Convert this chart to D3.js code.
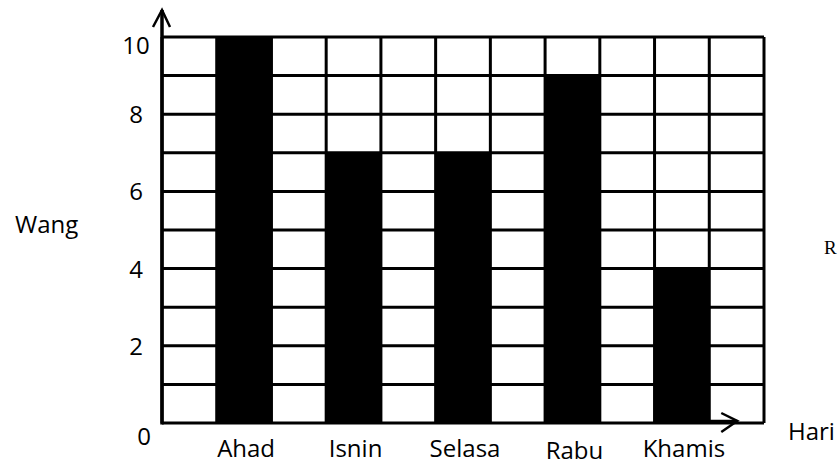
<!DOCTYPE html>
<html>
<head>
<meta charset="utf-8">
<script src="https://cdn.jsdelivr.net/npm/d3@7"></script>
<style>
  html, body { margin: 0; padding: 0; background: #fff; }
  svg { display: block; }
  text { font-family: "Open Sans", sans-serif; fill: #000; }
</style>
</head>
<body>
<svg id="chart" width="840" height="465"></svg>
<script>
// Hari (day) and Wang (money)
const days = ["Ahad", "Isnin", "Selasa", "Rabu", "Khamis"];
const money = [10, 7, 7, 9, 4];
const yTicks = [0, 2, 4, 6, 8, 10];
const yTitle = "Wang";
const xTitle = "Hari";

const svg = d3.select("#chart");
const plotLeft = 162, plotRight = 764, plotTop = 37, plotBottom = 423;

const x = d3.scaleBand()
  .domain(days)
  .range([plotLeft, plotRight])
  .paddingInner(0.5)
  .paddingOuter(0.5);

const y = d3.scaleLinear().domain([0, 10]).range([plotBottom, plotTop]);

// bars
svg.append("g").selectAll("rect")
  .data(days)
  .join("rect")
  .attr("x", d => x(d))
  .attr("width", x.bandwidth())
  .attr("y", (d, i) => y(money[i]))
  .attr("height", (d, i) => y(0) - y(money[i]))
  .attr("fill", "#000");

// grid: one line per unit and one column per half step
const grid = svg.append("g").attr("stroke", "#000").attr("stroke-width", 3);
const half = x.step() / 2;
const colEdges = d3.range(0, 12).map(i => plotLeft + i * half);
grid.selectAll("line.v")
  .data(colEdges)
  .join("line")
  .attr("class", "v")
  .attr("x1", d => d).attr("x2", d => d)
  .attr("y1", plotTop).attr("y2", plotBottom);
grid.selectAll("line.h")
  .data(d3.range(0, 11))
  .join("line")
  .attr("class", "h")
  .attr("x1", plotLeft).attr("x2", plotRight)
  .attr("y1", d => y(d)).attr("y2", d => y(d));

// y axis line, slightly heavier, with arrow
const axes = svg.append("g").attr("stroke", "#000").attr("fill", "none");
axes.append("line")
  .attr("x1", plotLeft).attr("x2", plotLeft)
  .attr("y1", plotBottom + 1.5).attr("y2", 10)
  .attr("stroke-width", 3.5);
axes.append("path")
  .attr("d", `M${plotLeft - 9},27 L${plotLeft},10 L${plotLeft + 8},27`)
  .attr("stroke-width", 2.5);

// x arrow
const ax = x("Khamis") + x.bandwidth();
axes.append("line")
  .attr("x1", ax).attr("x2", ax + 28)
  .attr("y1", plotBottom - 2).attr("y2", plotBottom - 2)
  .attr("stroke-width", 2.5);
axes.append("path")
  .attr("d", `M${ax + 12},${plotBottom - 10} L${ax + 28},${plotBottom - 2} L${ax + 12},${plotBottom + 9}`)
  .attr("stroke-width", 2.5);

// y tick labels
svg.append("g").selectAll("text")
  .data(yTicks)
  .join("text")
  .attr("x", d => d === 0 ? 144 : 136)
  .attr("y", d => d === 0 ? y(d) + 22 : d === 10 ? y(d) + 17 : y(d) + 9)
  .attr("text-anchor", "middle")
  .style("font-size", "24px")
  .text(d => d);

// day labels
svg.append("g").selectAll("text")
  .data(days)
  .join("text")
  .attr("x", d => x(d) + x.bandwidth() / 2 + 2)
  .attr("y", d => d === "Rabu" ? 459 : 457)
  .attr("text-anchor", "middle")
  .style("font-size", "24px")
  .text(d => d);

// titles
svg.append("text").attr("x", 15).attr("y", 233).style("font-size", "24px").text(yTitle);
svg.append("text").attr("x", 788).attr("y", 440).style("font-size", "24px").text(xTitle);
svg.append("text")
  .attr("x", 824).attr("y", 254)
  .style("font-size", "19px")
  .style("font-family", "'Liberation Serif', serif")
  .text("R");
</script>
</body>
</html>
